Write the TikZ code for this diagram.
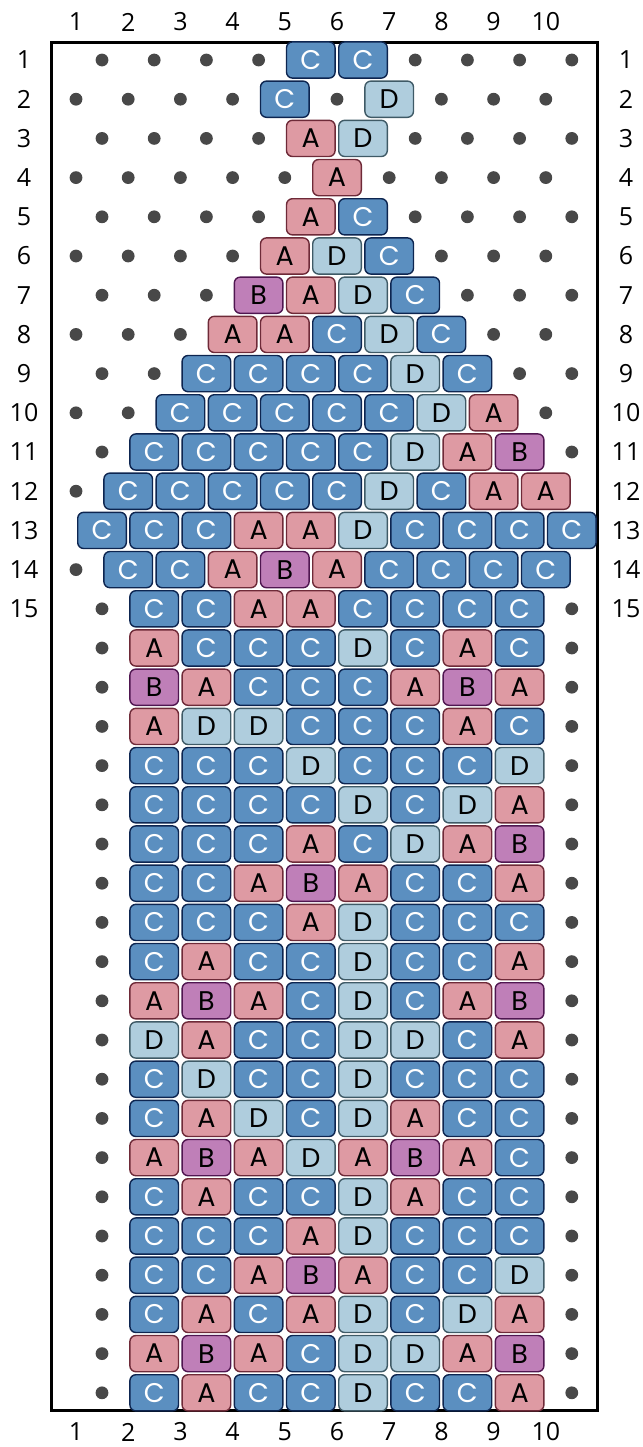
\documentclass[tikz,border=0pt]{standalone}
\usepackage{fontspec}
\setmainfont{Open Sans}
\newfontfamily\beadfont{Poppins}
\definecolor{cfill}{HTML}{5B8FC0}
\definecolor{cdraw}{HTML}{0D2550}
\definecolor{dfill}{HTML}{AFCDDD}
\definecolor{ddraw}{HTML}{3F5A66}
\definecolor{afill}{HTML}{DE9AA3}
\definecolor{adraw}{HTML}{6E2A38}
\definecolor{bfill}{HTML}{BF7FB8}
\definecolor{bdraw}{HTML}{4F1650}
\definecolor{dotgray}{HTML}{484848}
\tikzset{
  beadbase/.style={draw, rectangle, rounded corners=3pt, minimum width=24.3pt,
    minimum height=18.1pt, inner sep=0pt, line width=0.7pt,
    font=\beadfont\fontsize{13.5}{14}\selectfont},
  beadA/.style={beadbase, fill=afill, draw=adraw, text=black},
  beadB/.style={beadbase, fill=bfill, draw=bdraw, text=black},
  beadC/.style={beadbase, fill=cfill, draw=cdraw, text=white},
  beadD/.style={beadbase, fill=dfill, draw=ddraw, text=black},
  dotmark/.style={circle, fill=dotgray, inner sep=0pt, minimum size=6.4pt},
  lbl/.style={font=\fontsize{12.5}{14}\selectfont, text=black, inner sep=0pt},
  frameline/.style={draw=black, line width=1.2pt}
}
\begin{document}
\begin{tikzpicture}[x=0.5pt,y=-0.5pt]
\useasboundingbox (0,0) rectangle (643,1447);
\draw[frameline] (51.5,42.5) rectangle (597.5,1410.5);
\foreach \r/\xo/\codes in {
  1/102/{X,X,X,X,C,C,X,X,X,X},
  2/76/{X,X,X,X,C,X,D,X,X,X},
  3/102/{X,X,X,X,A,D,X,X,X,X},
  4/76/{X,X,X,X,X,A,X,X,X,X},
  5/102/{X,X,X,X,A,C,X,X,X,X},
  6/76/{X,X,X,X,A,D,C,X,X,X},
  7/102/{X,X,X,B,A,D,C,X,X,X},
  8/76/{X,X,X,A,A,C,D,C,X,X},
  9/102/{X,X,C,C,C,C,D,C,X,X},
  10/76/{X,X,C,C,C,C,C,D,A,X},
  11/102/{X,C,C,C,C,C,D,A,B,X},
  12/76/{X,C,C,C,C,C,D,C,A,A},
  13/102/{C,C,C,A,A,D,C,C,C,C},
  14/76/{X,C,C,A,B,A,C,C,C,C},
  15/102/{X,C,C,A,A,C,C,C,C,X},
  16/102/{X,A,C,C,C,D,C,A,C,X},
  17/102/{X,B,A,C,C,C,A,B,A,X},
  18/102/{X,A,D,D,C,C,C,A,C,X},
  19/102/{X,C,C,C,D,C,C,C,D,X},
  20/102/{X,C,C,C,C,D,C,D,A,X},
  21/102/{X,C,C,C,A,C,D,A,B,X},
  22/102/{X,C,C,A,B,A,C,C,A,X},
  23/102/{X,C,C,C,A,D,C,C,C,X},
  24/102/{X,C,A,C,C,D,C,C,A,X},
  25/102/{X,A,B,A,C,D,C,A,B,X},
  26/102/{X,D,A,C,C,D,D,C,A,X},
  27/102/{X,C,D,C,C,D,C,C,C,X},
  28/102/{X,C,A,D,C,D,A,C,C,X},
  29/102/{X,A,B,A,D,A,B,A,C,X},
  30/102/{X,C,A,C,C,D,A,C,C,X},
  31/102/{X,C,C,C,A,D,C,C,C,X},
  32/102/{X,C,C,A,B,A,C,C,D,X},
  33/102/{X,C,A,C,A,D,C,D,A,X},
  34/102/{X,A,B,A,C,D,D,A,B,X},
  35/102/{X,C,A,C,C,D,C,C,A,X}%
}{
  \foreach \c [count=\k from 0] in \codes {
    \if\c X
      \node[dotmark] (n\r-\k) at ({\xo+52.2*\k},{60+39.2*(\r-1)}) {};
    \else
      \node[bead\c] (n\r-\k) at ({\xo+52.2*\k},{60+39.2*(\r-1)}) {\c};
    \fi
  }
}
\foreach \k in {1,...,10} {
  \node[lbl] (ct\k) at ({76+52.2*(\k-1)},22) {\k};
  \node[lbl] (cb\k) at ({76+52.2*(\k-1)},1432) {\k};
}
\foreach \r in {1,...,15} {
  \node[lbl] (rl\r) at (24,{60+39.2*(\r-1)}) {\r};
  \node[lbl] (rr\r) at (626,{60+39.2*(\r-1)}) {\r};
}
\end{tikzpicture}
\end{document}
